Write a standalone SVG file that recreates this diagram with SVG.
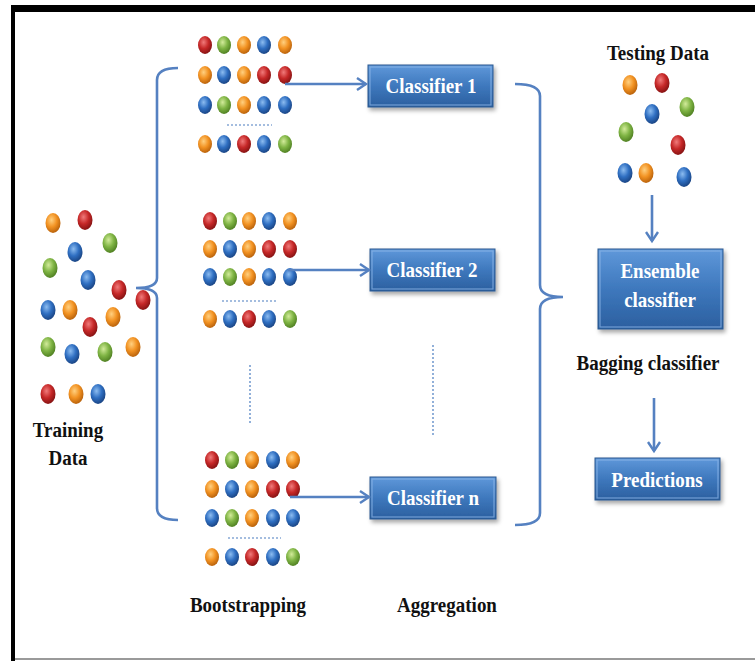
<svg xmlns="http://www.w3.org/2000/svg" xmlns:xlink="http://www.w3.org/1999/xlink" width="755" height="661" viewBox="0 0 755 661">
<style>
.lbl{font-family:"Liberation Serif","Times New Roman",serif;font-weight:bold;font-size:19px;fill:#111;text-anchor:middle}
.btxt{font-family:"Liberation Serif","Times New Roman",serif;font-weight:bold;font-size:19px;fill:#fff;text-anchor:middle}
.box{fill:url(#boxg);stroke:#2a5990;stroke-width:1;filter:url(#sh)}
.bevel{fill:none;stroke:#8fb8e8;stroke-width:1.2;opacity:0.7}
.conn{fill:none;stroke:#5581c1;stroke-width:2.6}
.dash{fill:none;stroke:#4a7cc0;stroke-width:1.2;stroke-dasharray:2 2}
</style>
<defs>
<radialGradient id="gR" cx="0.4" cy="0.35" r="0.7"><stop offset="0" stop-color="#f07a7a"/><stop offset="0.5" stop-color="#c62828"/><stop offset="1" stop-color="#7e1010"/></radialGradient>
<radialGradient id="gG" cx="0.4" cy="0.35" r="0.7"><stop offset="0" stop-color="#d2eb9a"/><stop offset="0.5" stop-color="#7fb444"/><stop offset="1" stop-color="#4a7a1e"/></radialGradient>
<radialGradient id="gO" cx="0.4" cy="0.35" r="0.7"><stop offset="0" stop-color="#ffd080"/><stop offset="0.5" stop-color="#f29222"/><stop offset="1" stop-color="#b25c08"/></radialGradient>
<radialGradient id="gB" cx="0.4" cy="0.35" r="0.7"><stop offset="0" stop-color="#8cbcf0"/><stop offset="0.5" stop-color="#2f6fc2"/><stop offset="1" stop-color="#173f7c"/></radialGradient>
<linearGradient id="boxg" x1="0" y1="0" x2="0" y2="1"><stop offset="0" stop-color="#5f98da"/><stop offset="0.5" stop-color="#3e78bd"/><stop offset="1" stop-color="#2b5f9f"/></linearGradient>
<filter id="sh" x="-10%" y="-10%" width="130%" height="140%"><feDropShadow dx="2" dy="3" stdDeviation="2" flood-color="#000" flood-opacity="0.35"/></filter>
<marker id="ah" markerWidth="14" markerHeight="14" refX="11" refY="7" orient="auto" markerUnits="userSpaceOnUse"><path d="M2,1 L11,7 L2,13" fill="none" stroke="#5581c1" stroke-width="2.4"/></marker>
<ellipse id="R" rx="7" ry="9" fill="url(#gR)"/>
<ellipse id="G" rx="7" ry="9" fill="url(#gG)"/>
<ellipse id="O" rx="7" ry="9" fill="url(#gO)"/>
<ellipse id="B" rx="7" ry="9" fill="url(#gB)"/>
<ellipse id="RL" rx="7.5" ry="10" fill="url(#gR)"/>
<ellipse id="GL" rx="7.5" ry="10" fill="url(#gG)"/>
<ellipse id="OL" rx="7.5" ry="10" fill="url(#gO)"/>
<ellipse id="BL" rx="7.5" ry="10" fill="url(#gB)"/>
</defs>
<rect width="755" height="661" fill="#fff"/>
<g id="frame">
<rect x="11" y="5" width="744" height="7" fill="#000"/>
<rect x="11" y="5" width="4" height="656" fill="#000"/>
<rect x="15" y="658" width="740" height="2" fill="#9a9a9a"/>
</g>

<g id="training-data">
<use href="#OL" x="53" y="223"/><use href="#RL" x="85" y="220"/>
<use href="#BL" x="75" y="252"/><use href="#GL" x="110" y="243"/>
<use href="#GL" x="50" y="268"/><use href="#BL" x="88" y="280"/>
<use href="#RL" x="119" y="290"/><use href="#RL" x="143" y="300"/>
<use href="#BL" x="48" y="310"/><use href="#OL" x="70" y="310"/>
<use href="#RL" x="90" y="327"/><use href="#OL" x="113" y="317"/>
<use href="#GL" x="48" y="347"/><use href="#BL" x="72" y="354"/>
<use href="#GL" x="105" y="352"/><use href="#OL" x="133" y="347"/>
<use href="#RL" x="48" y="394"/><use href="#OL" x="76" y="394"/><use href="#BL" x="98" y="394"/>
<text class="lbl" transform="translate(68,437) scale(1,1.15)">Training</text>
<text class="lbl" transform="translate(68,465) scale(1,1.15)">Data</text>
</g>

<g id="bootstrap-1">
<use href="#R" x="205" y="45"/><use href="#G" x="224" y="45"/><use href="#O" x="244" y="45"/><use href="#B" x="264" y="45"/><use href="#O" x="285" y="45"/>
<use href="#O" x="205" y="75"/><use href="#B" x="224" y="75"/><use href="#O" x="244" y="75"/><use href="#R" x="264" y="75"/><use href="#R" x="285" y="75"/>
<use href="#B" x="205" y="105"/><use href="#G" x="224" y="105"/><use href="#O" x="244" y="105"/><use href="#B" x="264" y="105"/><use href="#B" x="285" y="105"/>
<path class="dash" d="M227,125 H272"/>
<use href="#O" x="205" y="144"/><use href="#B" x="224" y="144"/><use href="#R" x="244" y="144"/><use href="#B" x="264" y="144"/><use href="#G" x="285" y="144"/>
</g>

<g id="bootstrap-2">
<use href="#R" x="210" y="221"/><use href="#G" x="230" y="221"/><use href="#O" x="249" y="221"/><use href="#B" x="269" y="221"/><use href="#O" x="290" y="221"/>
<use href="#O" x="210" y="249"/><use href="#B" x="230" y="249"/><use href="#O" x="249" y="249"/><use href="#R" x="269" y="249"/><use href="#R" x="290" y="249"/>
<use href="#B" x="210" y="277"/><use href="#G" x="230" y="277"/><use href="#O" x="249" y="277"/><use href="#B" x="269" y="277"/><use href="#B" x="290" y="277"/>
<path class="dash" d="M222,301 H276"/>
<use href="#O" x="210" y="319"/><use href="#B" x="230" y="319"/><use href="#R" x="249" y="319"/><use href="#B" x="269" y="319"/><use href="#G" x="290" y="319"/>
</g>

<g id="bootstrap-n">
<use href="#R" x="212" y="460"/><use href="#G" x="232" y="460"/><use href="#O" x="252" y="460"/><use href="#B" x="273" y="460"/><use href="#O" x="293" y="460"/>
<use href="#O" x="212" y="489"/><use href="#B" x="232" y="489"/><use href="#O" x="252" y="489"/><use href="#R" x="273" y="489"/><use href="#R" x="293" y="489"/>
<use href="#B" x="212" y="518"/><use href="#G" x="232" y="518"/><use href="#O" x="252" y="518"/><use href="#B" x="273" y="518"/><use href="#B" x="293" y="518"/>
<path class="dash" d="M228,538 H281"/>
<use href="#O" x="212" y="557"/><use href="#B" x="232" y="557"/><use href="#R" x="252" y="557"/><use href="#B" x="273" y="557"/><use href="#G" x="293" y="557"/>
</g>

<g id="classifier-1">
<rect class="box" x="368" y="65" width="125" height="42"/>
<rect class="bevel" x="370" y="67" width="121" height="38"/>
<text class="btxt" transform="translate(431,93) scale(1,1.12)">Classifier 1</text>
</g>
<g id="classifier-2">
<rect class="box" x="370" y="249" width="125" height="42"/>
<rect class="bevel" x="372" y="251" width="121" height="38"/>
<text class="btxt" transform="translate(432,277) scale(1,1.12)">Classifier 2</text>
</g>
<g id="classifier-n">
<rect class="box" x="370" y="477" width="126" height="42"/>
<rect class="bevel" x="372" y="479" width="122" height="38"/>
<text class="btxt" transform="translate(433,505) scale(1,1.12)">Classifier n</text>
</g>

<g id="testing-data">
<text class="lbl" transform="translate(658,60) scale(1,1.15)">Testing Data</text>
<use href="#OL" x="630" y="85"/><use href="#RL" x="662" y="83"/>
<use href="#BL" x="652" y="114"/><use href="#GL" x="687" y="107"/>
<use href="#GL" x="626" y="132"/><use href="#RL" x="678" y="145"/>
<use href="#BL" x="625" y="173"/><use href="#OL" x="646" y="173"/><use href="#BL" x="684" y="177"/>
</g>

<g id="ensemble">
<rect class="box" x="598" y="249" width="125" height="80"/>
<rect class="bevel" x="600" y="251" width="121" height="76"/>
<text class="btxt" transform="translate(660,278) scale(1,1.12)">Ensemble</text>
<text class="btxt" transform="translate(660,307) scale(1,1.12)">classifier</text>
</g>
<g id="bagging-label">
<text class="lbl" transform="translate(648,370) scale(1,1.15)">Bagging classifier</text>
</g>
<g id="predictions">
<rect class="box" x="595" y="458" width="125" height="42"/>
<rect class="bevel" x="597" y="460" width="121" height="38"/>
<text class="btxt" transform="translate(657,487) scale(1,1.12)">Predictions</text>
</g>

<g id="labels">
<text class="lbl" transform="translate(248,612) scale(1,1.15)">Bootstrapping</text>
<text class="lbl" transform="translate(447,612) scale(1,1.15)">Aggregation</text>
</g>

<g id="connectors">
<path class="conn" d="M178,68 Q157,68 157,80 L157,278 Q157,288 136,288 Q157,288 157,298 L157,508 Q157,520 178,520"/>
<path class="conn" d="M515,84 Q540,84 540,96 L540,285 Q540,297 563,297 Q540,297 540,309 L540,513 Q540,525 515,525"/>
<path class="conn" d="M285,84 L366,84" marker-end="url(#ah)"/>
<path class="conn" d="M288,270 L369,270" marker-end="url(#ah)"/>
<path class="conn" d="M290,497 L369,497" marker-end="url(#ah)"/>
<path class="conn" d="M652,195 L652,241" marker-end="url(#ah)"/>
<path class="conn" d="M654,398 L654,451" marker-end="url(#ah)"/>
<path class="dash" d="M250,365 V425"/>
<path class="dash" d="M433,345 V437"/>
</g>
</svg>
